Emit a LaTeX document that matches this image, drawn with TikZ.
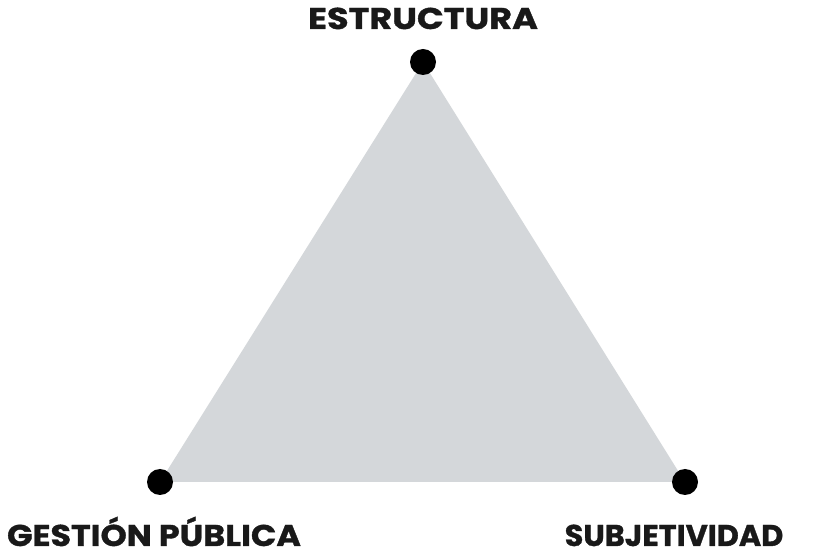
\documentclass[tikz,border=0pt]{standalone}
\usepackage{fontspec}
\setmainfont{Poppins}
\newfontfamily\lblfont[FakeStretch=1.17,FakeBold=1.2]{Poppins Bold}
\begin{document}
\begin{tikzpicture}[x=1pt,y=1pt,
  dot/.style={circle,fill=black,inner sep=0pt,minimum size=26pt},
  lbl/.style={font=\lblfont\fontsize{30}{34}\selectfont,anchor=base,inner sep=0pt,text=black!90}]
\useasboundingbox (0,0) rectangle (815,552);
\definecolor{tri}{HTML}{D4D7DA}
\coordinate (t) at (423,490);
\coordinate (l) at (160,70);
\coordinate (r) at (685,70);
\fill[tri] (t) -- (l) -- (r) -- cycle;
\node[dot] (dt) at (t) {};
\node[dot] (dl) at (l) {};
\node[dot] (dr) at (r) {};
\node[lbl] (lt) at (423,523) {ESTRUCTURA};
\node[lbl] (ll) at (154,6) {\scalebox{0.95}[1]{GESTIÓN PÚBLICA}};
\node[lbl] (lr) at (674,6) {\scalebox{0.865}[1]{SUBJETIVIDAD}};
\end{tikzpicture}
\end{document}
